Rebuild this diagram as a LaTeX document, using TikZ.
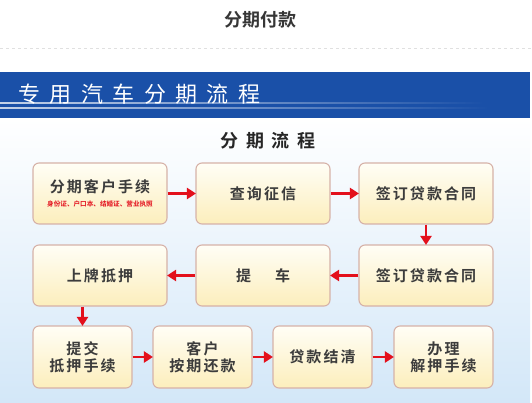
\documentclass[tikz,border=0pt]{standalone}
\usepackage{fontspec}
\newfontfamily\cjk{Noto Sans CJK SC}[BoldFont={Noto Sans CJK SC Bold}]
\usetikzlibrary{arrows.meta,fadings,positioning}
\definecolor{banner}{HTML}{1A50A8}
\definecolor{boxline}{HTML}{D6B2A8}
\definecolor{boxtop}{HTML}{FFFEF6}
\definecolor{boxbot}{HTML}{FCEEBC}
\definecolor{arrred}{HTML}{E3101C}
\definecolor{txt}{HTML}{3C3C3C}
\definecolor{bgblue}{HTML}{D3E7F8}
\tikzset{
  stepbox/.style={draw=boxline, line width=1.1pt, rounded corners=6pt,
    top color=boxtop, bottom color=boxbot, minimum width=134pt, minimum height=61pt,
    inner sep=0pt, align=center, font=\cjk\bfseries\addfontfeature{LetterSpace=14}\fontsize{15}{17}\selectfont, text=txt},
  smallbox/.style={stepbox, minimum width=99pt, minimum height=62pt},
  redarrow/.style={draw=arrred, line width=2.6pt, -{Triangle[width=11pt,length=9pt]}, shorten >=-0.5pt}
}
\begin{document}
\begin{tikzpicture}[x=1pt,y=-1pt]
\useasboundingbox (0,0) rectangle (532,403);
\fill[white] (0,0) rectangle (532,403);
% page title
\node[font=\cjk\bfseries\fontsize{18}{20}\selectfont, text=txt!90!black] (ttl) at (260,20) {分期付款};
\draw[black!12, dashed, line width=0.6pt] (0,48) -- (532,48);
% background
\shade[top color=white, bottom color=bgblue] (0,118) rectangle (530,403);
% banner
\fill[banner] (0,72) rectangle (530,118);
\fill[white, opacity=0.75, path fading=east] (0,102) rectangle (485,104);
\fill[white, opacity=0.75, path fading=east] (0,107.5) rectangle (490,109.5);
\node[anchor=west, font=\cjk\addfontfeature{LetterSpace=43}\fontsize{22}{24}\selectfont, text=white, inner sep=0pt] (bn) at (18,94) {专用汽车分期流程};
% flow title
\node[font=\cjk\bfseries\addfontfeature{LetterSpace=42}\fontsize{18}{20}\selectfont, text=black!85] (ft) at (268,141) {分期流程};
% row 1
\node[stepbox] (a1) at (100,193.5) {分期客户手续\\[-3pt]{\color{arrred}\addfontfeature{LetterSpace=0}\fontsize{6.6}{8}\selectfont 身份证、户口本、结婚证、营业执照}};
\node[stepbox] (a2) at (263,193.5) {查询征信};
\node[stepbox] (a3) at (426,193.5) {签订贷款合同};
% row 2
\node[stepbox] (b3) at (426,275.5) {签订贷款合同};
\node[stepbox] (b2) at (263,275.5) {提\hspace{1.6em}车};
\node[stepbox] (b1) at (100,275.5) {上牌抵押};
% row 3
\node[smallbox] (c1) at (82.5,357) {提交\\抵押手续};
\node[smallbox] (c2) at (202.5,357) {客户\\按期还款};
\node[smallbox] (c3) at (322.5,357) {贷款结清};
\node[smallbox] (c4) at (443.5,357) {办理\\解押手续};
% arrows
\draw[redarrow] (a1) -- (a2);
\draw[redarrow] (a2) -- (a3);
\draw[redarrow] (a3) -- (b3);
\draw[redarrow] (b3) -- (b2);
\draw[redarrow] (b2) -- (b1);
\draw[redarrow] (c1.north |- b1.south) -- (c1.north);
\draw[redarrow] (c1) -- (c2);
\draw[redarrow] (c2) -- (c3);
\draw[redarrow] (c3) -- (c4);
\end{tikzpicture}
\end{document}
